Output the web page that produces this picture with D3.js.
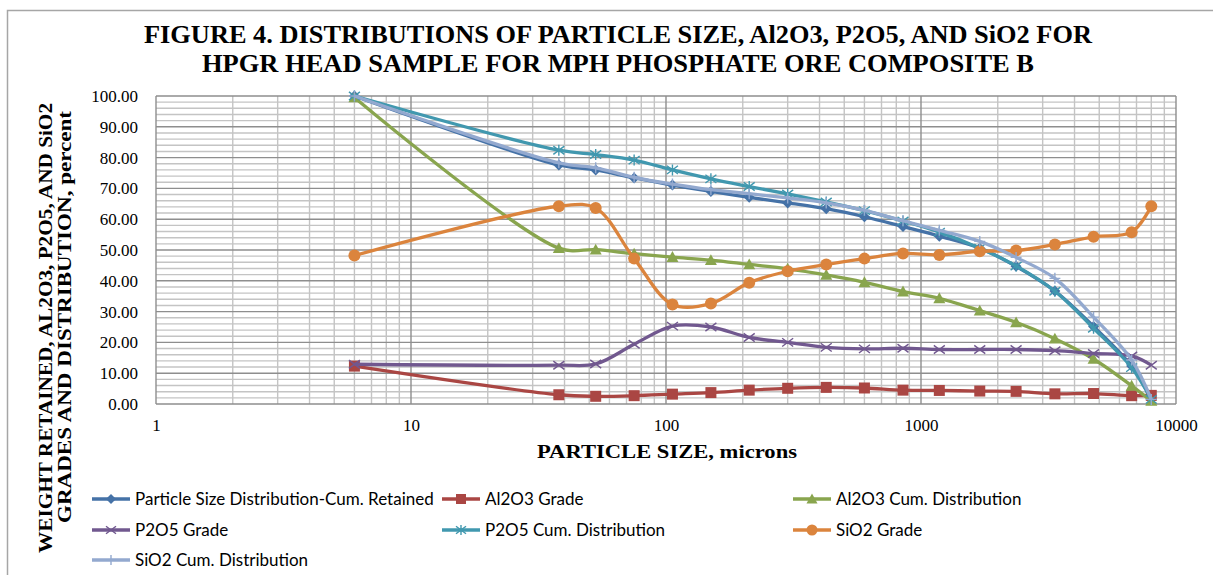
<!DOCTYPE html>
<html>
<head>
<meta charset="utf-8">
<script src="https://cdn.jsdelivr.net/npm/d3@7"></script>
<style>
  html, body { margin: 0; padding: 0; background: #fff; }
  svg { display: block; }
</style>
</head>
<body>
<svg id="chart" width="1213" height="575"></svg>
<script>
// Sieve sizes (microns) and the seven measured series
const sizes = [6, 38, 53, 75, 106, 150, 212, 300, 425, 600, 850, 1180, 1700, 2360, 3350, 4750, 6700, 8000];
const psdCumRetained = [100, 77.6, 76.0, 73.4, 71.1, 69.0, 67.1, 65.3, 63.4, 60.8, 57.6, 54.5, 50.6, 44.7, 36.7, 25.2, 12.3, 1.5];
const al2o3Grade     = [12.3, 3.0, 2.5, 2.7, 3.2, 3.7, 4.5, 5.1, 5.4, 5.2, 4.5, 4.4, 4.2, 4.1, 3.3, 3.4, 2.7, 2.8];
const al2o3CumDist   = [99.5, 50.6, 50.1, 48.8, 47.7, 46.7, 45.3, 43.9, 41.9, 39.5, 36.5, 34.3, 30.3, 26.5, 21.2, 14.6, 5.9, 1.0];
const p2o5Grade      = [12.9, 12.6, 13.0, 19.4, 25.3, 25.0, 21.6, 20.0, 18.4, 17.9, 18.1, 17.7, 17.7, 17.7, 17.3, 16.4, 15.6, 12.6];
const p2o5CumDist    = [100, 82.4, 81.0, 79.2, 76.0, 73.1, 70.6, 68.2, 65.6, 62.8, 59.4, 55.8, 50.6, 44.8, 36.6, 24.6, 11.8, 1.5];
const sio2Grade      = [48.2, 64.2, 63.6, 47.2, 32.3, 32.6, 39.4, 43.1, 45.3, 47.2, 48.9, 48.4, 49.6, 49.8, 51.8, 54.3, 55.8, 64.2];
const sio2CumDist    = [100, 78.3, 76.7, 73.6, 71.4, 69.6, 68.3, 66.9, 65.3, 62.9, 59.5, 56.4, 52.8, 47.6, 40.8, 28.2, 14.3, 1.5];

const seriesNames = [
  "Particle Size Distribution-Cum.  Retained", "Al2O3 Grade", "Al2O3 Cum. Distribution",
  "P2O5 Grade", "P2O5 Cum. Distribution", "SiO2 Grade", "SiO2 Cum. Distribution"
];
const seriesValues = [psdCumRetained, al2o3Grade, al2o3CumDist, p2o5Grade, p2o5CumDist, sio2Grade, sio2CumDist];
const seriesColors = ["#4572A7", "#AA4643", "#89A54E", "#71588F", "#4198AF", "#DB843D", "#93A9CF"];
const seriesMarkers = ["diamond", "square", "triangle", "x", "star", "circle", "plus"];

const xTickValues = [1, 10, 100, 1000, 10000];
const yTickValues = [0, 10, 20, 30, 40, 50, 60, 70, 80, 90, 100];

const titleLines = [
  "FIGURE 4. DISTRIBUTIONS OF PARTICLE SIZE, Al2O3, P2O5, AND SiO2  FOR",
  "HPGR HEAD SAMPLE FOR MPH PHOSPHATE ORE COMPOSITE B"
];
const yTitleLines = ["WEIGHT RETAINED, AL2O3, P2O5, AND SiO2", "GRADES AND DISTRIBUTION, percent"];
const xTitle = "PARTICLE SIZE, microns";

const svg = d3.select("#chart");
const serif = "'Liberation Serif', 'Times New Roman', serif";
const legendFont = "Lato, 'Open Sans', sans-serif";

// outer chart frame (left and top edges)
svg.append("path")
  .attr("d", "M7.5,575 L7.5,10.5 L1213,10.5")
  .attr("fill", "none").attr("stroke", "#a6a6a6").attr("stroke-width", 1.5);

const plot = { left: 156, right: 1176, top: 96, bottom: 404 };
const x = d3.scaleLog().domain([1, 10000]).range([plot.left, plot.right]);
const y = d3.scaleLinear().domain([0, 100]).range([plot.bottom, plot.top]);

// grid: minor first, then major
const grid = svg.append("g");
const minorX = [];
for (let d = 1; d < 10000; d *= 10) for (let k = 2; k <= 9; k++) minorX.push(d * k);
const minorY = d3.range(0, 101, 2).filter(v => v % 10 !== 0);

grid.selectAll(".mx").data(minorX).join("line")
  .attr("x1", d => x(d)).attr("x2", d => x(d))
  .attr("y1", plot.top).attr("y2", plot.bottom)
  .attr("stroke", "#c4c4c4").attr("stroke-width", 1.4);
grid.selectAll(".my").data(minorY).join("line")
  .attr("x1", plot.left).attr("x2", plot.right)
  .attr("y1", d => y(d)).attr("y2", d => y(d))
  .attr("stroke", "#c4c4c4").attr("stroke-width", 1.4);
grid.selectAll(".Mx").data(xTickValues).join("line")
  .attr("x1", d => x(d)).attr("x2", d => x(d))
  .attr("y1", plot.top).attr("y2", plot.bottom)
  .attr("stroke", "#8e8e8e").attr("stroke-width", 1.4);
grid.selectAll(".My").data(yTickValues).join("line")
  .attr("x1", plot.left).attr("x2", plot.right)
  .attr("y1", d => y(d)).attr("y2", d => y(d))
  .attr("stroke", "#8e8e8e").attr("stroke-width", 1.4);

// axes
const yAxis = svg.append("g")
  .attr("transform", `translate(${plot.left},0)`)
  .call(d3.axisLeft(y).tickValues(yTickValues).tickFormat(d3.format(".2f")).tickSize(0).tickPadding(18));
const xAxis = svg.append("g")
  .attr("transform", `translate(0,${plot.bottom})`)
  .call(d3.axisBottom(x).tickValues(xTickValues).tickFormat(d3.format("d")).tickSize(0).tickPadding(15));
[yAxis, xAxis].forEach(a => {
  a.select(".domain").remove();
  a.selectAll("text").attr("font-family", serif).attr("font-size", 17).attr("fill", "#000");
});

// marker shapes
function markerPath(type, s) {
  const h = s / 2;
  switch (type) {
    case "diamond": return `M0,${-h}L${h},0L0,${h}L${-h},0Z`;
    case "square": return `M${-h},${-h}H${h}V${h}H${-h}Z`;
    case "triangle": return `M0,${-h}L${h},${h * 0.8}L${-h},${h * 0.8}Z`;
    case "circle": return d3.symbol(d3.symbolCircle, Math.PI * h * h)();
    case "x": return `M${-h},${-h * 0.75}L${h},${h * 0.75}M${-h},${h * 0.75}L${h},${-h * 0.75}`;
    case "star": return `M${-h},${-h * 0.75}L${h},${h * 0.75}M${-h},${h * 0.75}L${h},${-h * 0.75}M0,${-h}V${h}`;
    case "plus": return `M0,${-h}V${h}M${-h},0H${h}`;
  }
}
const filledMarkers = new Set(["diamond", "square", "triangle", "circle"]);
const markerSize = { diamond: 11, square: 11, triangle: 12, circle: 12, x: 11, star: 11, plus: 11 };

// smoothed lines on the log axis
const line = d3.line()
  .x(d => x(d.size)).y(d => y(d.value))
  .curve(d3.curveCatmullRom.alpha(0.5));

const plotArea = svg.append("g");
seriesValues.forEach((vals, i) => {
  const pts = sizes.map((s, j) => ({ size: s, value: vals[j] }));
  const g = plotArea.append("g");
  g.append("path").datum(pts)
    .attr("d", line).attr("fill", "none")
    .attr("stroke", seriesColors[i]).attr("stroke-width", 3.3)
    .attr("stroke-linejoin", "round");
  const m = seriesMarkers[i];
  g.selectAll("path.mk").data(pts).join("path")
    .attr("class", "mk")
    .attr("transform", d => `translate(${x(d.size)},${y(d.value)})`)
    .attr("d", markerPath(m, markerSize[m]))
    .attr("fill", filledMarkers.has(m) ? seriesColors[i] : "none")
    .attr("stroke", seriesColors[i])
    .attr("stroke-width", filledMarkers.has(m) ? 0 : 1.4);
});

// titles
svg.selectAll(".title").data(titleLines).join("text")
  .attr("x", 618).attr("y", (d, i) => 43 + i * 29)
  .attr("text-anchor", "middle")
  .attr("font-family", serif).attr("font-weight", "bold").attr("font-size", 25)
  .attr("textLength", (d, i) => [948, 832][i]).attr("lengthAdjust", "spacingAndGlyphs")
  .text(d => d);

svg.append("text")
  .attr("x", 667).attr("y", 458)
  .attr("text-anchor", "middle")
  .attr("font-family", serif).attr("font-weight", "bold").attr("font-size", 19)
  .attr("textLength", 260).attr("lengthAdjust", "spacingAndGlyphs")
  .text(xTitle);

const yTitlePos = [{ x: 52, cy: 328, len: 450 }, { x: 71, cy: 317, len: 412 }];
svg.selectAll(".ytitle").data(yTitleLines).join("text")
  .attr("transform", (d, i) => `translate(${yTitlePos[i].x},${yTitlePos[i].cy}) rotate(-90)`)
  .attr("text-anchor", "middle")
  .attr("font-family", serif).attr("font-weight", "bold").attr("font-size", 19)
  .attr("textLength", (d, i) => yTitlePos[i].len).attr("lengthAdjust", "spacingAndGlyphs")
  .text(d => d);

// legend: three columns, rows of three
const legendCols = [92, 442, 793];
const legendRows = [499, 530, 560];
const legend = svg.append("g");
seriesNames.forEach((name, i) => {
  const lx = legendCols[i % 3], ly = legendRows[Math.floor(i / 3)];
  const g = legend.append("g").attr("transform", `translate(${lx},${ly})`);
  g.append("line").attr("x1", 0).attr("x2", 38).attr("y1", 0).attr("y2", 0)
    .attr("stroke", seriesColors[i]).attr("stroke-width", 3.3);
  const m = seriesMarkers[i];
  g.append("path").attr("transform", "translate(19,0)")
    .attr("d", markerPath(m, markerSize[m] - 1))
    .attr("fill", filledMarkers.has(m) ? seriesColors[i] : "none")
    .attr("stroke", seriesColors[i])
    .attr("stroke-width", filledMarkers.has(m) ? 0 : 1.4);
  g.append("text").attr("x", 43).attr("y", 6)
    .attr("font-family", legendFont).attr("font-size", 17).attr("fill", "#000")
    .text(name);
});
</script>
</body>
</html>
